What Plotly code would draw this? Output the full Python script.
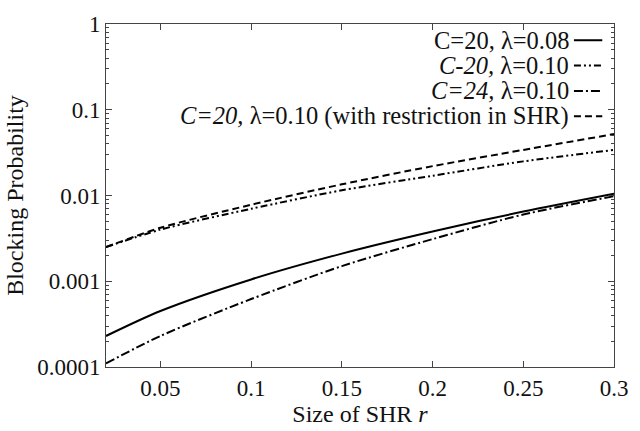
import plotly.graph_objects as go

# Size of the shared handoff region r
r_values = [0.02, 0.05, 0.1, 0.15, 0.2, 0.25, 0.3]

# Blocking probability for each configuration
bp_c20_l008 = [0.00023, 0.00045, 0.00105, 0.0021, 0.0038, 0.0065, 0.0105]
bp_c20_l010 = [0.0025, 0.0040, 0.0070, 0.0115, 0.017, 0.025, 0.034]
bp_c24_l010 = [0.00011, 0.00023, 0.00062, 0.0015, 0.0031, 0.0060, 0.0098]
bp_c20_l010_restr = [0.0025, 0.0042, 0.0078, 0.0135, 0.022, 0.034, 0.052]

legend_labels = [
    "C=20, λ=0.08",
    "<i>C-20,</i> λ=0.10",
    "<i>C=24,</i> λ=0.10",
    "<i>C=20,</i> λ=0.10 (with restriction in SHR)",
]

x_ticks = [0.05, 0.1, 0.15, 0.2, 0.25, 0.3]
x_ticktext = ["0.05", "0.1", "0.15", "0.2", "0.25", "0.3"]
y_ticks = [1, 0.1, 0.01, 0.001, 0.0001]
y_ticktext = ["1", "0.1", "0.01", "0.001", "0.0001"]

W, H = 640, 431
L, R, T, B = 106, 14, 14, 58
FONT = "Liberation Serif, Times New Roman, serif"
INK = "#111111"

dashes = ["solid", "7px,3px,2px,3px,2px,3px", "9px,3px,2px,3px", "7px,4px"]
series = [bp_c20_l008, bp_c20_l010, bp_c24_l010, bp_c20_l010_restr]

fig = go.Figure()
for ys, dash in zip(series, dashes):
    fig.add_trace(go.Scatter(
        x=r_values, y=ys, mode="lines",
        line=dict(color="black", width=2, dash=dash, shape="spline", smoothing=0.8),
        showlegend=False, hoverinfo="skip",
    ))

pw, ph = W - L - R, H - T - B


def px_x(p):
    return (p - L) / pw


def px_y(p):
    return (H - B - p) / ph


# key entries: right-aligned label followed by a line sample
row_y0, row_step = 31, 26.5
for i, (label, dash) in enumerate(zip(legend_labels, dashes)):
    yy = px_y(row_y0 + i * row_step)
    fig.add_annotation(
        x=px_x(582), y=yy, xref="paper", yref="paper",
        text=label, showarrow=False, xanchor="right", yanchor="middle",
        font=dict(family=FONT, size=24.5, color=INK),
    )
    fig.add_shape(
        type="line", xref="paper", yref="paper",
        x0=px_x(585), x1=px_x(614), y0=yy, y1=yy,
        line=dict(color="black", width=2, dash=dash),
    )

axis_common = dict(
    showline=True, linecolor="#444444", linewidth=1, mirror="ticks",
    ticks="inside", ticklen=6, tickcolor="#444444", showgrid=False, zeroline=False,
    tickfont=dict(family=FONT, size=23, color=INK), ticklabeloverflow="allow",
)

fig.update_xaxes(
    range=[0.02, 0.3], tickvals=x_ticks, ticktext=x_ticktext,
    title=dict(text="Size of SHR <i>r</i>", font=dict(family=FONT, size=24, color=INK), standoff=2),
    **axis_common,
)
fig.update_yaxes(
    type="log", range=[-4, 0], tickvals=y_ticks, ticktext=y_ticktext,
    minor=dict(ticks="inside", ticklen=3, tickcolor="#444444", dtick="D1", showgrid=False),
    title=dict(text="Blocking Probability", font=dict(family=FONT, size=24, color=INK), standoff=6),
    **axis_common,
)

fig.update_layout(
    width=W, height=H,
    margin=dict(l=L, r=R, t=T, b=B),
    paper_bgcolor="white", plot_bgcolor="white",
    font=dict(family=FONT, color=INK),
)

fig.write_html("out.html")
